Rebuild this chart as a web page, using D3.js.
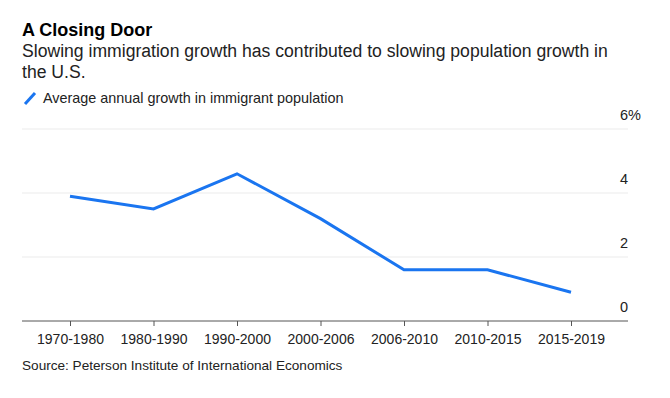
<!DOCTYPE html>
<html>
<head>
<meta charset="utf-8">
<script src="https://cdn.jsdelivr.net/npm/d3@7"></script>
<style>
  html, body { margin: 0; padding: 0; background: #fff; }
  svg { display: block; font-family: "Liberation Sans", Arial, sans-serif; }
</style>
</head>
<body>
<svg id="chart" width="670" height="398"></svg>
<script>
const categories = ["1970-1980", "1980-1990", "1990-2000", "2000-2006", "2006-2010", "2010-2015", "2015-2019"];
const growth = [3.9, 3.5, 4.6, 3.2, 1.6, 1.6, 0.9];
const yTicks = [0, 2, 4, 6];
const yTickLabels = ["0", "2", "4", "6%"];

const svg = d3.select("#chart");
const left = 22, right = 628;
const x = d3.scalePoint().domain(categories).range([70, 571]);
const y = d3.scaleLinear().domain([0, 6]).range([321, 129]);

// Title & subtitle
svg.append("text").attr("x", 22).attr("y", 36)
  .attr("font-size", 18).attr("font-weight", "bold").attr("fill", "#000")
  .text("A Closing Door");
svg.append("text").attr("x", 22).attr("y", 57)
  .attr("font-size", 17.6).attr("fill", "#222")
  .text("Slowing immigration growth has contributed to slowing population growth in");
svg.append("text").attr("x", 22).attr("y", 78)
  .attr("font-size", 17.6).attr("fill", "#222")
  .text("the U.S.");

// Legend
svg.append("line").attr("x1", 25).attr("y1", 104).attr("x2", 35).attr("y2", 93)
  .attr("stroke", "#1a75f0").attr("stroke-width", 3);
svg.append("text").attr("x", 43).attr("y", 103)
  .attr("font-size", 14.4).attr("fill", "#222")
  .text("Average annual growth in immigrant population");

// Gridlines
svg.append("g").selectAll("line").data(yTicks.filter(d => d > 0)).join("line")
  .attr("x1", left).attr("x2", right)
  .attr("y1", d => y(d)).attr("y2", d => y(d))
  .attr("stroke", "#ebebeb").attr("stroke-width", 1);

// Y labels
svg.append("g").selectAll("text").data(yTicks).join("text")
  .attr("x", 620).attr("y", d => y(d) - 9)
  .attr("font-size", 14.5).attr("fill", "#222")
  .text((d, i) => yTickLabels[i]);

// X axis
const xAxis = d3.axisBottom(x).tickSize(5).tickPadding(8);
const gx = svg.append("g").attr("transform", `translate(0,${y(0)})`).call(xAxis);
gx.select(".domain").remove();
gx.append("line").attr("x1", left).attr("x2", right).attr("y1", 0).attr("y2", 0)
  .attr("stroke", "#555").attr("stroke-width", 1);
gx.selectAll(".tick line").attr("stroke", "#555");
gx.selectAll(".tick text").attr("font-size", 14).attr("fill", "#222")
  .attr("font-family", "Liberation Sans, Arial, sans-serif");

// Line
const line = d3.line().x((d, i) => x(categories[i])).y(d => y(d));
svg.append("path").datum(growth).attr("d", line)
  .attr("fill", "none").attr("stroke", "#1a75f0").attr("stroke-width", 3)
  .attr("stroke-linejoin", "miter");

// Source
svg.append("text").attr("x", 22).attr("y", 370)
  .attr("font-size", 13.6).attr("fill", "#222")
  .text("Source: Peterson Institute of International Economics");
</script>
</body>
</html>
